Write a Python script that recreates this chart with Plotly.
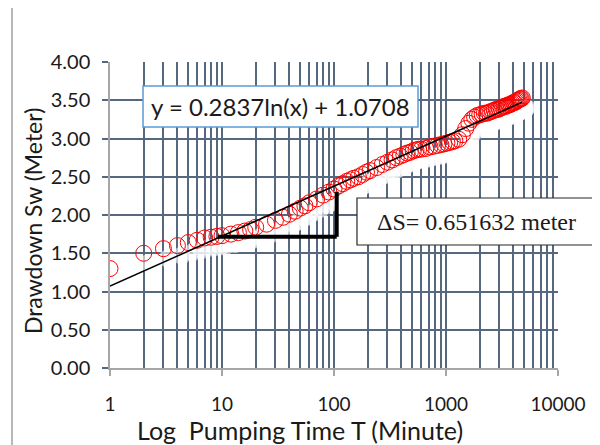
import plotly.graph_objects as go
import math

# ---- data ----
time_min = [1, 2, 3, 4, 5, 6, 7, 8, 9, 10,
            12, 14, 16, 18, 20,
            25, 30, 35, 40, 45, 50, 55, 60, 70, 80, 90, 100,
            110, 120, 130, 140, 150, 165, 180, 195, 210, 240, 270, 300,
            330, 360, 390, 420, 450, 480, 510, 540, 570, 600,
            660, 720, 780, 840, 900, 960, 1020, 1080, 1140, 1200,
            1300, 1400, 1500, 1600, 1700, 1800, 1900, 2000, 2100, 2200,
            2300, 2400, 2500, 2600, 2700, 2800, 2900, 3000, 3100, 3200,
            3300, 3400, 3500, 3600, 3700, 3800, 3900, 4000, 4100, 4200,
            4300, 4400, 4500, 4600, 4700, 4800]
drawdown_m = [1.30, 1.50, 1.56, 1.60, 1.64, 1.67, 1.70, 1.71, 1.72, 1.73,
              1.75, 1.77, 1.79, 1.81, 1.84,
              1.88, 1.93, 1.97, 2.01, 2.05, 2.09, 2.12, 2.16, 2.21, 2.26, 2.30, 2.34,
              2.38, 2.41, 2.44, 2.46, 2.48, 2.50, 2.53, 2.56, 2.58, 2.62, 2.66, 2.69,
              2.72, 2.75, 2.77, 2.79, 2.81, 2.82, 2.84, 2.85, 2.86, 2.86,
              2.87, 2.89, 2.90, 2.91, 2.92, 2.93, 2.94, 2.95, 2.96, 2.97,
              2.99, 3.05, 3.13, 3.20, 3.25, 3.28, 3.30, 3.31, 3.32, 3.33,
              3.33, 3.34, 3.35, 3.36, 3.37, 3.38, 3.38, 3.39, 3.40, 3.41,
              3.42, 3.42, 3.43, 3.44, 3.44, 3.45, 3.46, 3.47, 3.47, 3.48,
              3.49, 3.50, 3.51, 3.52, 3.52, 3.53]

fit_slope = 0.2837
fit_intercept = 1.0708
fit_range = [1, 4770]

delta_s_x = [9.2, 105.7]
delta_s_y = [1.715, 2.304]

x_tick_vals = [1, 10, 100, 1000, 10000]
x_tick_text = ["1", "10", "100", "1000", "10000"]
y_tick_vals = [0, 0.5, 1.0, 1.5, 2.0, 2.5, 3.0, 3.5, 4.0]

equation_text = "y = 0.2837ln(x) + 1.0708"
delta_text = "\u0394S= 0.651632 meter"
x_title = "Log  Pumping Time T (Minute)"
y_title = "Drawdown Sw (Meter)"

# ---- styling ----
GRID = "#56687F"
AXIS = "#A6A6A6"
SANS = "Lato"
TXT = "#1a1a1a"

fit_y = [fit_slope * math.log(t) + fit_intercept for t in fit_range]
shadow_x = [t * 1.09 for t in time_min]
shadow_y = [v - 0.13 for v in drawdown_m]

fig = go.Figure()
fig.add_trace(go.Scatter(
    x=shadow_x, y=shadow_y, mode="markers", hoverinfo="skip",
    marker=dict(symbol="circle", size=18, color="rgba(255,255,255,0.6)", line=dict(width=0)),
    showlegend=False))
fig.add_trace(go.Scatter(
    x=time_min, y=drawdown_m, mode="markers",
    marker=dict(symbol="circle-open", size=16, color="#FF0000", line=dict(width=1, color="#FF0000")),
    showlegend=False))
fig.add_trace(go.Scatter(
    x=fit_range, y=fit_y, mode="lines",
    line=dict(color="black", width=1.5), showlegend=False))

# Delta-S construction (thick L)
fig.add_shape(type="line", xref="x", yref="y", x0=delta_s_x[0], x1=delta_s_x[1],
              y0=delta_s_y[0], y1=delta_s_y[0], line=dict(color="black", width=4))
fig.add_shape(type="line", xref="x", yref="y", x0=delta_s_x[1], x1=delta_s_x[1],
              y0=delta_s_y[0], y1=delta_s_y[1], line=dict(color="black", width=4))

# outer chart frame
fig.add_shape(type="rect", xref="paper", yref="paper", x0=-0.21875, x1=1.3, y0=-0.6, y1=1.183,
              line=dict(color="#A0A0A0", width=1.5), fillcolor="rgba(0,0,0,0)", layer="above")

# equation box
fig.add_shape(type="rect", xref="paper", yref="paper", x0=0.0737, x1=0.6875, y0=0.7876, y1=0.9216,
              line=dict(color="#5B9BD5", width=1.5), fillcolor="white", layer="above")
fig.add_annotation(xref="paper", yref="paper", x=0.3806, y=0.8546, text=equation_text,
                   showarrow=False, font=dict(family=SANS, size=24, color=TXT),
                   xanchor="center", yanchor="middle")

# delta-S box
fig.add_shape(type="rect", xref="paper", yref="paper", x0=0.5513, x1=1.3, y0=0.402, y1=0.5556,
              line=dict(color="#262626", width=1.2), fillcolor="white", layer="above")
fig.add_annotation(xref="paper", yref="paper", x=0.818, y=0.477, text=delta_text,
                   showarrow=False, font=dict(family="Liberation Serif", size=24, color=TXT),
                   xanchor="center", yanchor="middle")

# axis titles
fig.add_annotation(xref="paper", yref="paper", x=-0.1719, y=0.48, text=y_title, textangle=-90,
                   showarrow=False, font=dict(family=SANS, size=23, color=TXT),
                   xanchor="center", yanchor="middle")
fig.add_annotation(xref="paper", yref="paper", x=0.424, y=-0.2026, text=x_title,
                   showarrow=False, font=dict(family=SANS, size=25, color=TXT),
                   xanchor="center", yanchor="middle")

fig.update_xaxes(type="log", range=[0, 4], tickvals=x_tick_vals, ticktext=x_tick_text,
                 showgrid=True, gridcolor=GRID, gridwidth=1.5,
                 minor=dict(dtick="D1", showgrid=True, gridcolor=GRID, gridwidth=1.5, ticks=""),
                 showline=True, linecolor=AXIS, linewidth=1.5,
                 ticks="outside", ticklen=6, tickcolor=AXIS, tickwidth=1.5,
                 ticklabelstandoff=12, zeroline=False,
                 tickfont=dict(family=SANS, size=19, color=TXT))
fig.update_yaxes(range=[0, 4], tickvals=y_tick_vals, tickformat=".2f",
                 showgrid=True, gridcolor=GRID, gridwidth=1.5,
                 showline=True, linecolor=AXIS, linewidth=1.5,
                 ticks="outside", ticklen=6, tickcolor=GRID, tickwidth=1.5,
                 ticklabelstandoff=8, zeroline=False,
                 tickfont=dict(family=SANS, size=20, color=TXT))

# page body has an 8px default margin, so the figure is drawn 8px smaller and offset
fig.update_layout(width=592, height=437, margin=dict(l=102, r=42, t=54, b=77, autoexpand=False),
                  plot_bgcolor="white", paper_bgcolor="white")

fig.write_html("out.html")
